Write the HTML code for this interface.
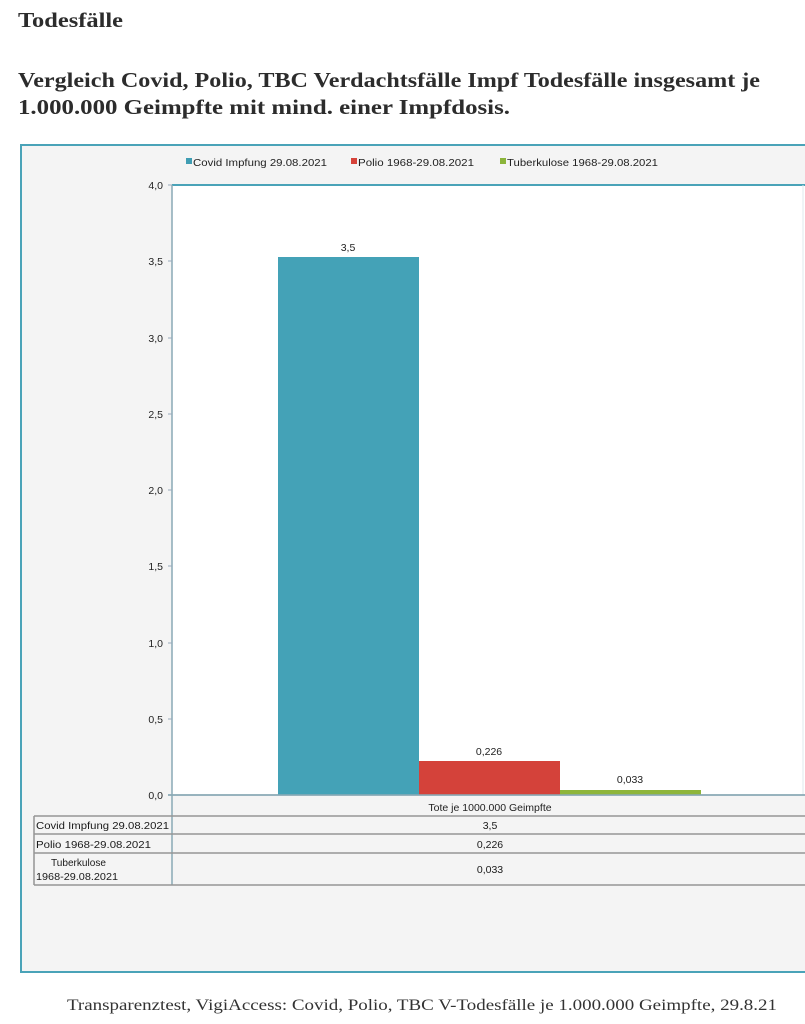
<!DOCTYPE html>
<html><head><meta charset="utf-8"><style>
html,body{margin:0;padding:0;background:#fff;width:805px;height:1024px;overflow:hidden}
svg{display:block}
</style></head><body>
<svg width="805" height="1024" viewBox="0 0 805 1024" xmlns="http://www.w3.org/2000/svg">
<rect width="805" height="1024" fill="#fff"/>
<g font-family="Liberation Serif, serif" fill="#2c2c2c" font-weight="bold">
<text x="18" y="27" font-size="21" textLength="105" lengthAdjust="spacingAndGlyphs">Todesfälle</text>
<text x="18" y="87" font-size="21" textLength="742" lengthAdjust="spacingAndGlyphs">Vergleich Covid, Polio, TBC Verdachtsfälle Impf Todesfälle insgesamt je</text>
<text x="18" y="114" font-size="21" textLength="492" lengthAdjust="spacingAndGlyphs">1.000.000 Geimpfte mit mind. einer Impfdosis.</text>
</g>
<!-- outer frame -->
<rect x="21" y="145" width="800" height="827" fill="#f4f4f4" stroke="#4aa3b8" stroke-width="2"/>
<!-- plot area -->
<rect x="172" y="185" width="640" height="610" fill="#ffffff"/>
<line x1="172" y1="185" x2="805" y2="185" stroke="#4aa3b8" stroke-width="2"/>
<line x1="172" y1="185" x2="172" y2="885" stroke="#8aa9b5" stroke-width="1.5"/>
<line x1="803" y1="185" x2="803" y2="795" stroke="#dfe9ec" stroke-width="1"/>
<line x1="168" y1="795" x2="805" y2="795" stroke="#8aa9b5" stroke-width="1.5"/>
<!-- ticks -->
<g stroke="#9ab" stroke-width="1">
<line x1="168" y1="185" x2="172" y2="185"/>
<line x1="168" y1="261" x2="172" y2="261"/>
<line x1="168" y1="338" x2="172" y2="338"/>
<line x1="168" y1="414" x2="172" y2="414"/>
<line x1="168" y1="490" x2="172" y2="490"/>
<line x1="168" y1="566" x2="172" y2="566"/>
<line x1="168" y1="643" x2="172" y2="643"/>
<line x1="168" y1="719" x2="172" y2="719"/>
</g>
<g font-family="Liberation Sans, sans-serif" font-size="10.5" fill="#222" text-anchor="end">
<text x="163" y="189">4,0</text>
<text x="163" y="265">3,5</text>
<text x="163" y="342">3,0</text>
<text x="163" y="418">2,5</text>
<text x="163" y="494">2,0</text>
<text x="163" y="570">1,5</text>
<text x="163" y="647">1,0</text>
<text x="163" y="723">0,5</text>
<text x="163" y="799">0,0</text>
</g>
<!-- legend -->
<g font-family="Liberation Sans, sans-serif" font-size="10.5" fill="#222">
<rect x="186" y="158" width="6" height="6" fill="#3f9db3"/>
<text x="193" y="166" textLength="134" lengthAdjust="spacingAndGlyphs">Covid Impfung 29.08.2021</text>
<rect x="351" y="158" width="6" height="6" fill="#d6433a"/>
<text x="358" y="166" textLength="116" lengthAdjust="spacingAndGlyphs">Polio 1968-29.08.2021</text>
<rect x="500" y="158" width="6" height="6" fill="#8bb43a"/>
<text x="507" y="166" textLength="151" lengthAdjust="spacingAndGlyphs">Tuberkulose 1968-29.08.2021</text>
</g>
<!-- bars -->
<rect x="278" y="257" width="141" height="538" fill="#44a2b7"/>
<rect x="419" y="761" width="141" height="34" fill="#d4423a"/>
<rect x="560" y="790" width="141" height="5" fill="#8db53b"/>
<line x1="168" y1="795" x2="805" y2="795" stroke="#8aa9b5" stroke-width="1.5"/>
<g font-family="Liberation Sans, sans-serif" font-size="10.5" fill="#222" text-anchor="middle">
<text x="348" y="251">3,5</text>
<text x="489" y="755">0,226</text>
<text x="630" y="783">0,033</text>
<text x="490" y="811">Tote je 1000.000 Geimpfte</text>
</g>
<!-- table -->
<g stroke="#959595" stroke-width="1.5" fill="none">
<line x1="34" y1="816" x2="805" y2="816"/>
<line x1="34" y1="834" x2="805" y2="834"/>
<line x1="34" y1="853" x2="805" y2="853"/>
<line x1="34" y1="885" x2="805" y2="885"/>
<line x1="34" y1="816" x2="34" y2="885"/>
</g>
<g font-family="Liberation Sans, sans-serif" font-size="10.5" fill="#1a1a1a">
<text x="36" y="829" textLength="133" lengthAdjust="spacingAndGlyphs">Covid Impfung 29.08.2021</text>
<text x="36" y="848" textLength="115" lengthAdjust="spacingAndGlyphs">Polio 1968-29.08.2021</text>
<text x="51" y="866" textLength="55" lengthAdjust="spacingAndGlyphs">Tuberkulose</text>
<text x="36" y="880" textLength="82" lengthAdjust="spacingAndGlyphs">1968-29.08.2021</text>
</g>
<g font-family="Liberation Sans, sans-serif" font-size="10.5" fill="#1a1a1a" text-anchor="middle">
<text x="490" y="829">3,5</text>
<text x="490" y="848">0,226</text>
<text x="490" y="873">0,033</text>
</g>
<!-- caption -->
<text x="67" y="1010" font-family="Liberation Serif, serif" font-size="16" fill="#333" textLength="710" lengthAdjust="spacingAndGlyphs">Transparenztest, VigiAccess: Covid, Polio, TBC V-Todesfälle je 1.000.000 Geimpfte, 29.8.21</text>
</svg>
</body></html>
